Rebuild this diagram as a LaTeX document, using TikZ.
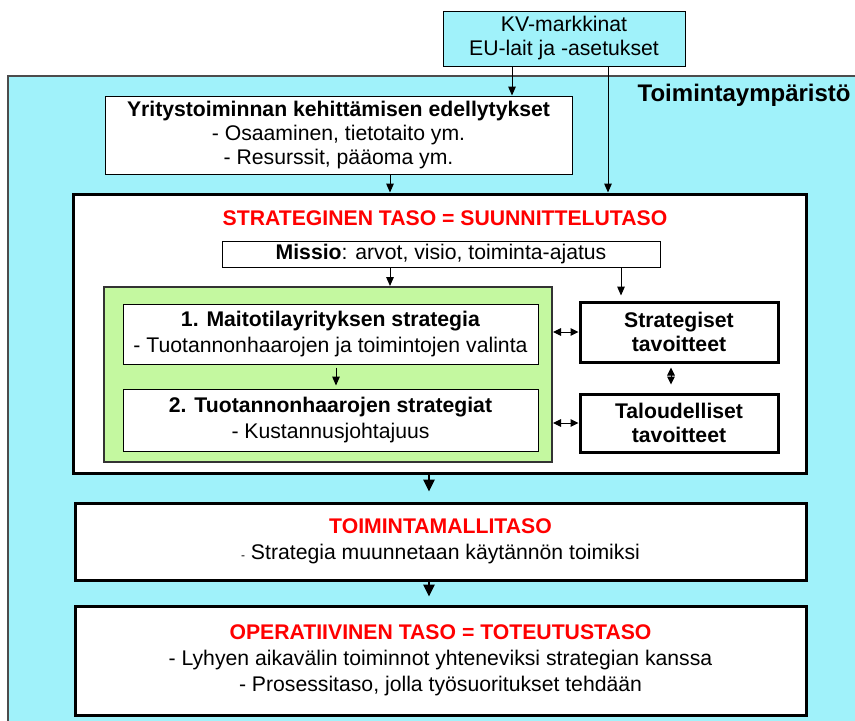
\documentclass[tikz,border=0pt]{standalone}
\usepackage{fontspec}
\setmainfont{Liberation Sans}
\usetikzlibrary{arrows.meta}
\definecolor{envcyan}{RGB}{160,242,250}
\definecolor{stratgreen}{RGB}{196,248,160}
\definecolor{titlered}{RGB}{255,0,0}
\tikzset{
  thinbox/.style={draw=black, line width=0.5pt, fill=white, inner sep=0pt},
  thickbox/.style={draw=black, line width=1.5pt, fill=white, inner sep=0pt},
  txt/.style={font=\fontsize{10.6}{12}\selectfont, align=center},
  txtb/.style={font=\fontsize{10.6}{12}\selectfont\bfseries, align=center},
  txtw/.style={font=\fontsize{10.6}{13}\selectfont, align=center},
  arr/.style={-{Triangle[length=4.5pt,width=3.8pt]}, line width=0.5pt},
  darr/.style={{Triangle[length=4pt,width=3.8pt]}-{Triangle[length=4pt,width=3.8pt]}, line width=0.5pt},
  bigarr/.style={-{Triangle[length=6pt,width=5.5pt]}, line width=1.3pt},
}
\begin{document}
\begin{tikzpicture}[x=0.5pt,y=-0.5pt]
\useasboundingbox (0,0) rectangle (855,720);
\begin{scope}
  \clip (0,0) rectangle (855,720);
  \path[fill=envcyan, draw=black!70, line width=0.8pt] (8,76) rectangle (880,740);
\end{scope}

% x positions of connectors
\coordinate (xa) at (512,0);
\coordinate (xb) at (608,0);
\coordinate (xc) at (390,0);
\coordinate (xd) at (621,0);
\coordinate (xe) at (336,0);
\coordinate (xf) at (429,0);
\coordinate (xg) at (671,0);

\node[thinbox, fill=envcyan, minimum width=121pt, minimum height=27.5pt, txt] (kv) at (564,38.5)
  {KV-markkinat\\EU-lait ja -asetukset};

\node[font=\fontsize{12}{13}\selectfont\bfseries, anchor=east, inner sep=0pt] (env) at (851,95)
  {Toimintaympäristö};

\node[thinbox, minimum width=233.5pt, minimum height=39pt, txt] (yr) at (338.5,135)
  {\textbf{Yritystoiminnan kehittämisen edellytykset}\\- Osaaminen, tietotaito ym.\\- Resurssit, pääoma ym.};

\node[thickbox, minimum width=366.5pt, minimum height=139.5pt] (st) at (439.5,333.5) {};
\node[txtb, text=titlered] (sttitle) at (445,218) {STRATEGINEN TASO = SUUNNITTELUTASO};

\node[thinbox, minimum width=219pt, minimum height=13pt, txt] (mi) at (441,254)
  {\textbf{Missio}: arvot, visio, toiminta-ajatus};

\node[draw=black!80, line width=1pt, fill=stratgreen, inner sep=0pt, minimum width=224pt, minimum height=87.5pt] (gr) at (328,374.5) {};

\node[thinbox, minimum width=207.5pt, minimum height=30pt, txtw] (b1) at (330.5,334)
  {\textbf{1. Maitotilayrityksen strategia}\\- Tuotannonhaarojen ja toimintojen valinta};
\node[thinbox, minimum width=207.5pt, minimum height=31pt, txtw] (b2) at (330.5,420)
  {\textbf{2. Tuotannonhaarojen strategiat}\\- Kustannusjohtajuus};

\node[thickbox, minimum width=99pt, minimum height=30pt, txtb] (sg) at (679,332) {Strategiset\\tavoitteet};
\node[thickbox, minimum width=99pt, minimum height=29pt, txtb] (tg) at (679,423) {Taloudelliset\\tavoitteet};

\node[thickbox, minimum width=365.5pt, minimum height=38.5pt, txtw] (tm) at (440.5,541.5)
  {{\color{titlered}\textbf{TOIMINTAMALLITASO}}\\{\fontsize{6}{6}\selectfont -} Strategia muunnetaan käytännön toimiksi};

\node[thickbox, minimum width=365.5pt, minimum height=54.5pt, txtw] (op) at (440.5,660.5)
  {{\color{titlered}\textbf{OPERATIIVINEN TASO = TOTEUTUSTASO}}\\- Lyhyen aikavälin toiminnot yhteneviksi strategian kanssa\\- Prosessitaso, jolla työsuoritukset tehdään};

% connectors
\draw[arr] (kv.south -| xa) -- (yr.north -| xa);
\draw[arr] (kv.south -| xb) -- (st.north -| xb);
\draw[arr] (yr.south -| xc) -- (st.north -| xc);
\draw[arr] (mi.south -| xc) -- (gr.north -| xc);
\draw[arr, shorten >=2.5pt] (mi.south -| xd) -- (sg.north -| xd);
\draw[arr, shorten <=1.5pt, shorten >=1.5pt] (b1.south -| xe) -- (b2.north -| xe);
\draw[darr] (gr.east |- sg.west) -- (sg.west);
\draw[darr] (gr.east |- tg.west) -- (tg.west);
\draw[darr, shorten <=2pt, shorten >=4pt] (sg.south -| xg) -- (tg.north -| xg);
\draw[bigarr, shorten >=5pt] (st.south -| xf) -- (tm.north -| xf);
\draw[bigarr, shorten >=4pt] (tm.south -| xf) -- (op.north -| xf);
\end{tikzpicture}
\end{document}
